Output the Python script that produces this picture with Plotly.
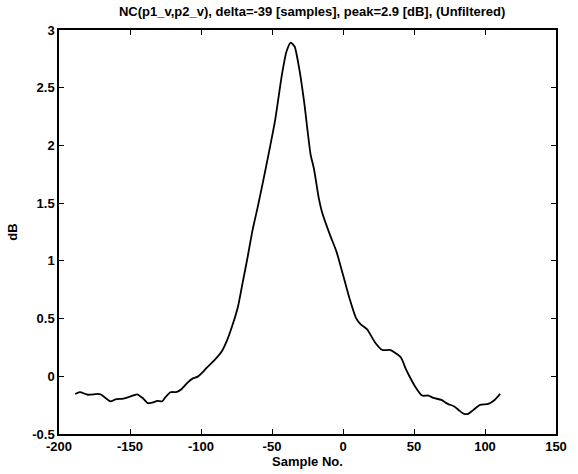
import plotly.graph_objects as go

sample_no = [-188.6, -185.3, -179.6, -172.8, -170.5, -167.0, -163.6, -160.2, -154.6, -150.0,
             -145.0, -140.9, -137.5, -134.1, -130.7, -127.3, -125.0, -121.6, -117.0, -113.6,
             -109.1, -105.7, -102.3, -98.9, -95.5, -91.0, -85.2, -81.8, -77.3, -73.9,
             -70.5, -67.1, -63.7, -60.0, -54.5, -47.7, -43.2, -39.8, -36.8, -34.1,
             -30.7, -27.3, -22.8, -20.5, -17.0, -14.8, -9.1, -4.6, 0.0, 4.5,
             9.1, 12.5, 17.0, 22.7, 27.7, 32.9, 36.3, 40.9, 44.3, 46.6,
             51.1, 55.6, 60.2, 63.6, 69.3, 73.8, 78.4, 81.8, 85.2, 88.2,
             92.0, 96.5, 102.3, 106.8, 110.7]
db_values = [-0.153, -0.138, -0.160, -0.153, -0.158, -0.190, -0.218, -0.200, -0.193, -0.176,
             -0.156, -0.190, -0.233, -0.227, -0.213, -0.216, -0.181, -0.138, -0.136, -0.110,
             -0.050, -0.018, -0.003, 0.034, 0.080, 0.134, 0.220, 0.306, 0.463, 0.607,
             0.822, 1.037, 1.266, 1.470, 1.796, 2.226, 2.599, 2.813, 2.891, 2.857,
             2.656, 2.370, 1.920, 1.800, 1.539, 1.424, 1.223, 1.080, 0.879, 0.678,
             0.506, 0.449, 0.406, 0.291, 0.228, 0.228, 0.206, 0.160, 0.062, 0.005,
             -0.095, -0.167, -0.167, -0.187, -0.205, -0.239, -0.261, -0.296, -0.325, -0.325,
             -0.290, -0.248, -0.239, -0.205, -0.153]

x_ticks = [-200, -150, -100, -50, 0, 50, 100, 150]
x_labels = ["-200", "-150", "-100", "-50", "0", "50", "100", "150"]
y_ticks = [-0.5, 0, 0.5, 1, 1.5, 2, 2.5, 3]
y_labels = ["-0.5", "0", "0.5", "1", "1.5", "2", "2.5", "3"]

title_text = "NC(p1_v,p2_v), delta=-39 [samples], peak=2.9 [dB], (Unfiltered)"

fig = go.Figure(go.Scatter(x=sample_no, y=db_values, mode="lines",
                           line=dict(color="black", width=1.8, shape="spline", smoothing=0.6)))

font = dict(family="Liberation Sans, Arial, sans-serif", size=13, color="black", weight="bold")
axis_common = dict(showline=True, linecolor="black", linewidth=1.5, mirror="ticks",
                   ticks="inside", ticklen=5, tickcolor="black", tickwidth=1,
                   showgrid=False, zeroline=False, tickfont=font, ticklabelstandoff=0)

fig.update_layout(
    width=578, height=474,
    margin=dict(l=55, r=11, t=30, b=37),
    paper_bgcolor="white", plot_bgcolor="white",
    showlegend=False,
    title=dict(text=title_text, x=0.54, xanchor="center", y=0.975, yanchor="middle",
               font=dict(family="Liberation Sans, Arial, sans-serif", size=13, color="black",
                         weight="bold")),
    xaxis=dict(range=[-200, 150], tickvals=x_ticks, ticktext=x_labels,
               title=dict(text="Sample No.", font=font, standoff=0), **axis_common),
    yaxis=dict(range=[-0.5, 3], tickvals=y_ticks, ticktext=y_labels,
               title=dict(text="dB", font=font, standoff=12), **axis_common),
)

fig.write_html("out.html")
